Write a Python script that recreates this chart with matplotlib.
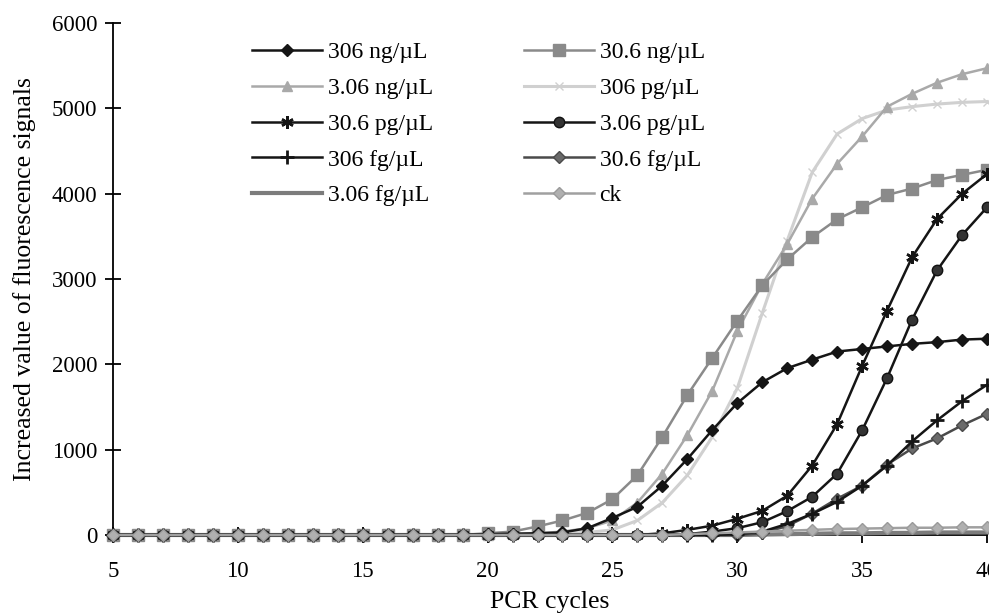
import matplotlib
matplotlib.use("Agg")
import matplotlib.pyplot as plt

cycles = list(range(5, 41))

s306ng = [0, 0, 0, 0, 0, 0, 0, 0, 0, 0, 0, 0, 0, 0, 0, 10, 15, 20, 30,
          80, 200, 330, 580, 890, 1230, 1545, 1790, 1955, 2055, 2150, 2180, 2210, 2240, 2260, 2290, 2300]
s30_6ng = [0, 0, 0, 0, 0, 0, 0, 0, 0, 0, 0, 0, 0, 0, 0,
           20, 40, 100, 170, 260, 420, 700, 1150, 1640, 2075, 2510, 2925, 3230, 3490, 3700, 3840, 3985, 4060, 4160, 4220, 4280]
s3_06ng = [0, 0, 0, 0, 0, 0, 0, 0, 0, 0, 0, 0, 0, 0, 0, 0, 10, 20,
           40, 80, 170, 380, 720, 1170, 1690, 2390, 2940, 3410, 3940, 4350, 4670, 5020, 5170, 5300, 5400, 5470]
s306pg = [0, 0, 0, 0, 0, 0, 0, 0, 0, 0, 0, 0, 0, 0, 0, 0, 0, 10, 20,
          30, 60, 170, 380, 700, 1150, 1720, 2600, 3450, 4250, 4700, 4880, 4980, 5020, 5050, 5070, 5080]
s30_6pg = [0, 0, 0, 0, 0, 0, 0, 0, 0, 0, 0, 0, 0, 0, 0, 0, 0, 0, 0, 0, 0, 0, 20,
           60, 110, 190, 283, 460, 814, 1300, 1981, 2630, 3255, 3703, 3998, 4230]
s3_06pg = [0, 0, 0, 0, 0, 0, 0, 0, 0, 0, 0, 0, 0, 0, 0, 0, 0, 0, 0, 0, 0, 0, 0, 10,
           40, 80, 150, 280, 448, 719, 1226, 1840, 2524, 3101, 3514, 3840]
s306fg = [0, 0, 0, 0, 0, 0, 0, 0, 0, 0, 0, 0, 0, 0, 0, 0, 0, 0, 0, 0, 0, 0, 0, 0, 0, 10,
          40, 130, 248, 389, 578, 814, 1097, 1344, 1568, 1760]
s30_6fg = [0, 0, 0, 0, 0, 0, 0, 0, 0, 0, 0, 0, 0, 0, 0, 0, 0, 0, 0, 0, 0, 0, 0, 0, 0, 0,
           20, 106, 250, 425, 578, 826, 1014, 1132, 1285, 1420]
s3_06fg = [0, 0, 0, 0, 0, 0, 0, 0, 0, 0, 0, 0, 0, 0, 0, 0, 0, 0, 0, 0, 0, 0, 0, 0, 0, 0,
           5, 10, 15, 20, 20, 25, 25, 30, 30, 30]
ck = [0, 0, 0, 0, 0, 0, 0, 0, 0, 0, 0, 0, 0, 0, 0, 0, 0, 0, 0, 0, 0, 0, 0, 10, 20,
      30, 40, 50, 60, 70, 75, 80, 85, 85, 90, 90]

labels = ["306 ng/\u00b5L", "30.6 ng/\u00b5L", "3.06 ng/\u00b5L", "306 pg/\u00b5L",
          "30.6 pg/\u00b5L", "3.06 pg/\u00b5L", "306 fg/\u00b5L", "30.6 fg/\u00b5L",
          "3.06 fg/\u00b5L", "ck"]
series = [s306ng, s30_6ng, s3_06ng, s306pg, s30_6pg, s3_06pg, s306fg, s30_6fg, s3_06fg, ck]

styles = [
    dict(color="#151515", marker="D", ms=6, mfc="#151515", mec="#151515", lw=1.8),
    dict(color="#8a8a8a", marker="s", ms=8, mfc="#8a8a8a", mec="#8a8a8a", lw=1.8),
    dict(color="#a9a9a9", marker="^", ms=7, mfc="#a9a9a9", mec="#a9a9a9", lw=1.8),
    dict(color="#d0d0d0", marker="x", ms=6, mfc="#d0d0d0", mec="#d0d0d0", lw=2.2),
    dict(color="#151515", marker=(6, 2, 0), ms=9, mfc="#151515", mec="#151515", lw=1.8, mew=1.8),
    dict(color="#151515", marker="o", ms=7.5, mfc="#333333", mec="#111111", lw=1.8),
    dict(color="#151515", marker="+", ms=10, mfc="#151515", mec="#151515", lw=1.8, mew=2),
    dict(color="#4a4a4a", marker="D", ms=6, mfc="#6a6a6a", mec="#4a4a4a", lw=1.8),
    dict(color="#7c7c7c", marker=None, lw=3.0),
    dict(color="#a0a0a0", marker="D", ms=6.5, mfc="#b0b0b0", mec="#9a9a9a", lw=1.8),
]

plt.rcParams["font.family"] = ["Liberation Serif", "DejaVu Serif"]

fig = plt.figure(figsize=(9.89, 6.13), dpi=100)
ax = fig.add_axes([113 / 989, 78 / 613, 874 / 989, 512 / 613])

order = [8, 3, 2, 1, 7, 6, 5, 4, 0, 9]
handles = {}
for i in order:
    h, = ax.plot(cycles, series[i], label=labels[i], clip_on=False, zorder=3 + order.index(i), **styles[i])
    handles[i] = h

ax.set_xlim(5, 40)
ax.set_ylim(0, 6000)
ax.set_xticks([5, 10, 15, 20, 25, 30, 35, 40])
ax.set_yticks([0, 1000, 2000, 3000, 4000, 5000, 6000])
for s in ["top", "right"]:
    ax.spines[s].set_visible(False)
ax.spines["left"].set_linewidth(1.3)
ax.spines["bottom"].set_linewidth(1.3)
ax.tick_params(axis="y", direction="inout", length=12, width=1.3, labelsize=16.5, pad=5.4)
ax.tick_params(axis="x", direction="inout", length=12, width=1.3, labelsize=16.5, pad=13)

ax.set_xlabel("PCR cycles", fontsize=18.5, labelpad=6)
ax.set_ylabel("Increased value of fluorescence signals", fontsize=18.5, labelpad=11)

leg_order = [0, 2, 4, 6, 8, 1, 3, 5, 7, 9]
ax.legend([handles[i] for i in leg_order], [labels[i] for i in leg_order],
          ncol=2, loc="upper left", bbox_to_anchor=(0.159, 0.963), frameon=False,
          fontsize=17, handlelength=2.96, handletextpad=0.25, labelspacing=0.6,
          columnspacing=3.85, borderpad=0, borderaxespad=0)

fig.savefig("out.png", dpi=100, facecolor="white")
